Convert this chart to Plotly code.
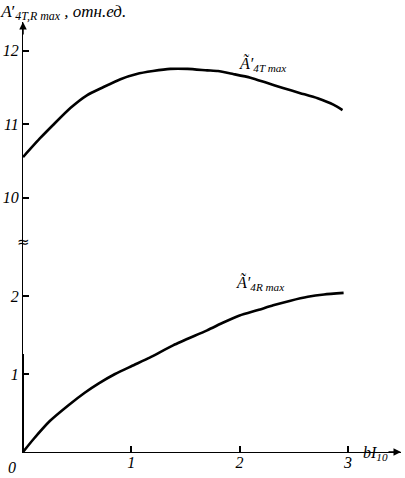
from plotly import graph_objects as go

# b*I10 values and curve readings
x_4t = [0.0, 0.16, 0.28, 0.44, 0.59, 0.74, 0.90, 1.05, 1.20, 1.36, 1.52, 1.70,
        1.80, 1.94, 2.10, 2.25, 2.40, 2.56, 2.72, 2.87, 2.95]
y_4t = [10.55, 10.81, 10.99, 11.22, 11.39, 11.50, 11.61, 11.68, 11.72, 11.75, 11.75, 11.73,
        11.72, 11.68, 11.63, 11.56, 11.49, 11.42, 11.35, 11.26, 11.19]

x_4r = [0.0, 0.10, 0.25, 0.42, 0.57, 0.70, 0.85, 1.00, 1.17, 1.39, 1.70, 1.85,
        2.00, 2.17, 2.31, 2.47, 2.63, 2.78, 2.96]
y_4r = [0.0, 0.17, 0.40, 0.60, 0.76, 0.88, 1.00, 1.10, 1.21, 1.37, 1.56, 1.66,
        1.75, 1.82, 1.88, 1.94, 1.99, 2.02, 2.04]

x_ticks = [1, 2, 3]
y_ticks_low = [1, 2]
y_ticks_high = [10, 11, 12]

SERIF = "Liberation Serif"
tickfont = dict(family=SERIF, size=16, color="black", style="italic")

fig = go.Figure()
fig.add_trace(go.Scatter(x=x_4t, y=y_4t, xaxis="x", yaxis="y2", mode="lines",
                         line=dict(color="black", width=2.6, shape="spline", smoothing=0.6),
                         showlegend=False))
fig.add_trace(go.Scatter(x=x_4r, y=y_4r, xaxis="x", yaxis="y", mode="lines",
                         line=dict(color="black", width=2.6, shape="spline", smoothing=0.6),
                         showlegend=False))

split = 210 / 430
axis_common = dict(
    showline=True, linecolor="black", linewidth=1, showgrid=False, zeroline=False,
    ticks="inside", ticklen=6, tickwidth=1.5, tickcolor="black", tickfont=tickfont,
    automargin=False,
)
fig.update_layout(
    width=405, height=478,
    margin=dict(l=23, r=4, t=22, b=26),
    plot_bgcolor="white", paper_bgcolor="white",
    xaxis=dict(range=[0, 3.49], tickvals=x_ticks, anchor="y", ticklabelstandoff=-4,
               **axis_common),
    yaxis=dict(range=[0, 210 / 78], domain=[0, split], tickvals=y_ticks_low,
               anchor="x", **axis_common),
    yaxis2=dict(range=[12 - 191.5 / 73.5, 12 + 28.5 / 73.5], domain=[split, 1],
                tickvals=y_ticks_high, anchor="x", **axis_common),
    title=dict(
        text="<i>A</i>′<sub><i>4T,R max</i></sub><i> , отн.ед.</i>",
        x=0.003, xanchor="left", xref="container", y=0.99, yanchor="top", yref="container",
        font=dict(family=SERIF, size=17, color="black"),
    ),
)

fig.add_annotation(text="<i>Ã′</i><sub><i>4T max</i></sub>", x=2.21, y=11.82,
                   xref="x", yref="y2", showarrow=False,
                   font=dict(family=SERIF, size=16, color="black"))
fig.add_annotation(text="<i>Ã′</i><sub><i>4R max</i></sub>", x=2.19, y=2.17,
                   xref="x", yref="y", showarrow=False,
                   font=dict(family=SERIF, size=16, color="black"))
fig.add_annotation(text="<i>0</i>", x=0, y=0, xref="x", yref="y", showarrow=False,
                   xshift=-11, yshift=-15, font=dict(family=SERIF, size=16, color="black"))
fig.add_annotation(text="<i>bI</i><sub><i>10</i></sub>", x=0.971, y=-0.03,
                   xref="paper", yref="paper", showarrow=False,
                   font=dict(family=SERIF, size=16, color="black"))
# axis break mark
fig.add_annotation(text="≈", x=0, y=split, xref="paper", yref="paper", showarrow=False,
                   xanchor="center", yanchor="middle",
                   font=dict(family="DejaVu Sans", size=15, color="black"))
# arrow heads
fig.add_annotation(text="", x=0, y=1, xref="paper", yref="paper", showarrow=True,
                   ax=0, ay=14, arrowhead=2, arrowsize=1, arrowwidth=1.5, arrowcolor="black")
fig.add_annotation(text="", x=1, y=0, xref="paper", yref="paper", showarrow=True,
                   ax=-14, ay=0, arrowhead=2, arrowsize=1, arrowwidth=1.5, arrowcolor="black")
fig.add_shape(type="line", xref="paper", yref="paper", x0=0, x1=0, y0=0, y1=98 / 430,
              line=dict(color="black", width=2))

# drop the default page margin so the figure sits at the window's corner
fig.write_html("out.html", config={"displayModeBar": False},
               post_script="document.body.style.margin='0';")
